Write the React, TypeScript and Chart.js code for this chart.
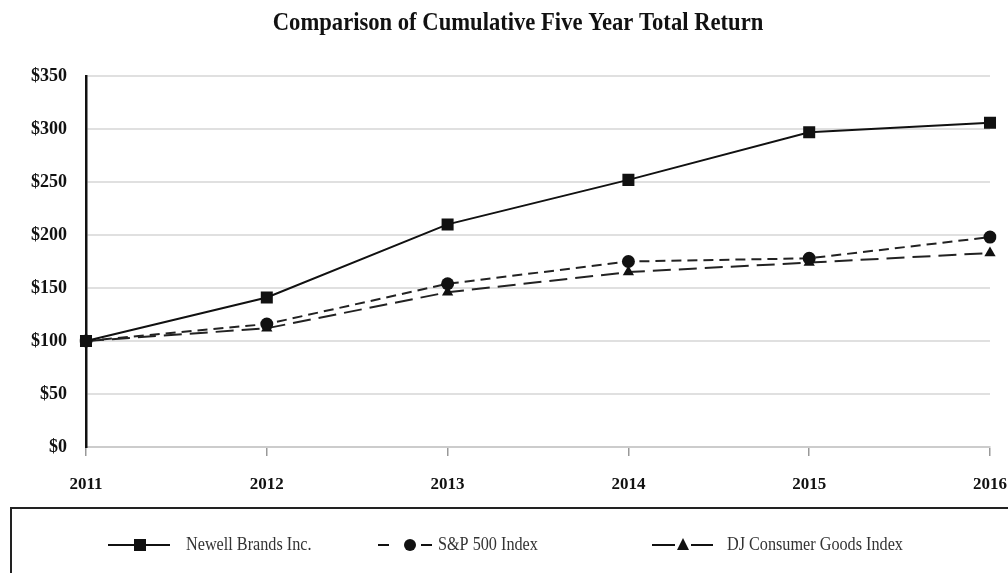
import React, { useEffect, useRef } from "react";
import { Chart, registerables } from "chart.js";

Chart.register(...registerables);

const years = ["2011", "2012", "2013", "2014", "2015", "2016"];
const newell = [100, 141, 210, 252, 297, 306];
const sp500 = [100, 116, 154, 175, 178, 198];
const djConsumer = [100, 112, 146, 165, 174, 183];
const seriesNames = ["Newell Brands Inc.", "S&P 500 Index", "DJ Consumer Goods Index"];
const chartTitle = "Comparison of Cumulative Five Year Total Return";

const SERIF = "'Liberation Serif', 'Times New Roman', serif";

const overlayPlugin = {
  id: "overlay",
  afterDraw(chart: any) {
    const ctx = chart.ctx as CanvasRenderingContext2D;
    ctx.save();
    ctx.fillStyle = "#111";
    ctx.font = `bold 26px ${SERIF}`;
    ctx.textAlign = "center";
    ctx.textBaseline = "middle";
    ctx.save();
    ctx.translate(518, 23);
    ctx.scale(0.87, 1);
    ctx.fillText(chartTitle, 0, 0);
    ctx.restore();

    ctx.strokeStyle = "#222";
    ctx.lineWidth = 2;
    ctx.beginPath();
    ctx.moveTo(11, 580);
    ctx.lineTo(11, 508);
    ctx.lineTo(1010, 508);
    ctx.stroke();

    const y = 545;
    ctx.strokeStyle = "#111";
    ctx.fillStyle = "#111";
    ctx.lineWidth = 2;
    ctx.setLineDash([]);
    ctx.beginPath();
    ctx.moveTo(108, y);
    ctx.lineTo(170, y);
    ctx.stroke();
    ctx.fillRect(134, y - 6, 12, 12);
    ctx.beginPath();
    ctx.moveTo(378, y);
    ctx.lineTo(389, y);
    ctx.moveTo(421, y);
    ctx.lineTo(432, y);
    ctx.stroke();
    ctx.beginPath();
    ctx.arc(410, y, 6, 0, Math.PI * 2);
    ctx.fill();
    ctx.beginPath();
    ctx.moveTo(652, y);
    ctx.lineTo(675, y);
    ctx.moveTo(691, y);
    ctx.lineTo(713, y);
    ctx.stroke();
    ctx.beginPath();
    ctx.moveTo(683, y - 7);
    ctx.lineTo(689, y + 5);
    ctx.lineTo(677, y + 5);
    ctx.closePath();
    ctx.fill();

    ctx.fillStyle = "#333";
    ctx.font = `18px ${SERIF}`;
    ctx.textAlign = "left";
    ctx.textBaseline = "middle";
    const xs = [186, 438, 727];
    seriesNames.forEach((name, i) => {
      ctx.save();
      ctx.translate(xs[i], y);
      ctx.scale(0.9, 1);
      ctx.fillText(name, 0, 0);
      ctx.restore();
    });
    ctx.restore();
  },
};

export default function App() {
  const canvasRef = useRef<HTMLCanvasElement | null>(null);

  useEffect(() => {
    document.body.style.margin = "0";
    const canvas = canvasRef.current;
    if (!canvas) return;
    const chart = new Chart(canvas, {
      type: "line",
      data: {
        labels: years,
        datasets: [
          {
            label: seriesNames[0],
            data: newell,
            borderColor: "#111",
            backgroundColor: "#111",
            borderWidth: 2,
            pointStyle: "rect",
            pointRadius: 8.5,
            pointBorderWidth: 0,
            tension: 0,
          },
          {
            label: seriesNames[1],
            data: sp500,
            borderColor: "#222",
            backgroundColor: "#111",
            borderWidth: 2,
            borderDash: [10, 6],
            pointStyle: "circle",
            pointRadius: 6.5,
            pointBorderWidth: 0,
            tension: 0,
          },
          {
            label: seriesNames[2],
            data: djConsumer,
            borderColor: "#222",
            backgroundColor: "#111",
            borderWidth: 2,
            borderDash: [18, 8],
            pointStyle: "triangle",
            pointRadius: 6.5,
            pointBorderWidth: 0,
            tension: 0,
          },
        ],
      },
      options: {
        animation: false,
        responsive: false,
        devicePixelRatio: 1,
        layout: { padding: { top: 76, right: 18, bottom: 66, left: 0 } },
        plugins: {
          legend: { display: false },
          title: { display: false },
          tooltip: { enabled: false },
        },
        scales: {
          x: {
            type: "category",
            offset: false,
            grid: {
              drawOnChartArea: false,
              drawTicks: true,
              tickLength: 9,
              color: "#999",
              lineWidth: 1.5,
            },
            border: { color: "#ccc", width: 2 },
            ticks: {
              color: "#111",
              font: { family: SERIF, size: 17, weight: "bold" },
              padding: 18,
              maxRotation: 0,
              autoSkip: false,
            },
            afterFit: (scale: any) => {
              scale.height = 60;
              scale.paddingLeft = 0;
              scale.paddingRight = 0;
            },
          },
          y: {
            min: 0,
            max: 350,
            grid: { color: "#e0e0e0", lineWidth: 2, drawTicks: false },
            border: { color: "#111", width: 2.5 },
            ticks: {
              stepSize: 50,
              color: "#111",
              font: { family: SERIF, size: 18, weight: "bold" },
              padding: 19,
              callback: (v: any) => "$" + v,
            },
            afterFit: (scale: any) => {
              scale.width = 86;
              scale.paddingTop = 0;
              scale.paddingBottom = 0;
            },
          },
        },
      },
      plugins: [overlayPlugin],
    });
    return () => chart.destroy();
  }, []);

  return (
    <div style={{ width: 1008, height: 573, background: "#fff" }}>
      <canvas ref={canvasRef} width={1008} height={573} style={{ display: "block" }} />
    </div>
  );
}
